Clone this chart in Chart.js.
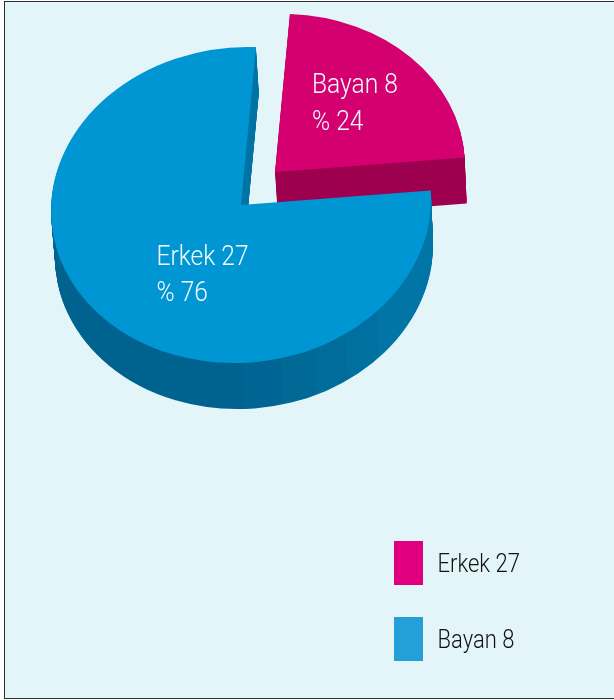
<!DOCTYPE html>
<html><head><meta charset="utf-8">
<style>
html,body{margin:0;padding:0;background:#fff;overflow:hidden;width:614px;height:700px}
#frame{position:absolute;left:4px;top:1px;width:640px;height:696px;border:1px solid #2a2f30;background:#e3f5f8}
#c{position:absolute;left:0;top:0}
</style>
<script src="https://cdn.jsdelivr.net/npm/chart.js@4"></script>
</head><body>
<div id="frame"></div>
<canvas id="c" width="614" height="700"></canvas>
<script>
const categories = ['Bayan 8', 'Erkek 27'];
const values = [8, 27];
const percentLabels = ['% 24', '% 76'];
const sliceColors = ['#d50070', '#0095d3'];
const sideColors = ['#9e0050', '#0075a6'];
const legendLabels = ['Erkek 27', 'Bayan 8'];
const legendColors = ['#e0007f', '#23a0d7'];

const FONT = 'Roboto, "Liberation Sans", sans-serif';
const NARROW_SLICE = 0.91, NARROW_LEGEND = 0.88;
const K = 158 / 190, DEPTH = 46, SKEW = 3, SHEAR = -0.03;
const centers = [{x: 275, y: 172}, {x: 241, y: 205}];
const textPos = [{x: 312, y: 93}, {x: 156.5, y: 264.5}];
const LINE_GAP = 36.5;
const legendBox = {x: 394, y: 541, w: 29, h: 44, step: 76, textX: 437.5, baseline: 31};
const facets = [[0,'#00628f'],[.505,'#00628f'],[.505,'#006592'],[.585,'#006592'],[.585,'#006996'],[.655,'#006996'],[.655,'#006c9b'],[.72,'#006c9b'],[.72,'#0070a0'],[.785,'#0070a0'],[.785,'#0075a6'],[1,'#0075a6']];

function place(ctx, arc, c, dx, dy) {
  ctx.translate(c.x + dx, c.y + dy);
  ctx.transform(1 - 0.005 * dy / DEPTH, SHEAR, 0, K, 0, 0);
  ctx.translate(-arc.x, -arc.y);
}
function drawLayer(ctx, arc, c, fill, dx, dy) {
  const o = arc.options, old = o.backgroundColor;
  ctx.save();
  place(ctx, arc, c, dx, dy);
  o.backgroundColor = typeof fill === 'function' ? fill(ctx, arc, c) : fill;
  arc.draw(ctx);
  o.backgroundColor = old;
  ctx.restore();
}
function facetGradient(ctx, arc, c) {
  const x0 = 0 - c.x + arc.x, x1 = 480 - c.x + arc.x;
  const g = ctx.createLinearGradient(x0, 0, x1, 0);
  facets.forEach(s => g.addColorStop(s[0], s[1]));
  return g;
}
function narrowText(ctx, t, x, y, f) {
  ctx.save();
  ctx.translate(x, y);
  ctx.scale(f, 1);
  ctx.fillText(t, 0, 0);
  ctx.restore();
}
const pie3d = {
  id: 'pie3d',
  beforeDatasetsDraw(chart) {
    const ctx = chart.ctx, arcs = chart.getDatasetMeta(0).data;
    arcs.forEach((arc, i) => {
      const c = centers[i];
      for (let d = DEPTH; d >= 1; d--) {
        const dx = SKEW * d / DEPTH;
        drawLayer(ctx, arc, c, i === 1 ? facetGradient : sideColors[i], dx, d);
      }
      if (i === 1) {
        ctx.save();
        ctx.beginPath();
        ctx.rect(236, 40, 32, 215);
        ctx.clip();
        for (let d = DEPTH; d >= 1; d--) drawLayer(ctx, arc, c, sideColors[i], SKEW * d / DEPTH, d);
        ctx.restore();
      }
      drawLayer(ctx, arc, c, sliceColors[i], 0, 0);
    });
    return false;
  },
  afterDraw(chart) {
    const ctx = chart.ctx;
    ctx.save();
    ctx.textBaseline = 'alphabetic';
    ctx.fillStyle = '#f4fbfd';
    ctx.font = '300 27px ' + FONT;
    categories.forEach((t, i) => {
      narrowText(ctx, t, textPos[i].x, textPos[i].y, NARROW_SLICE);
      narrowText(ctx, percentLabels[i], textPos[i].x, textPos[i].y + LINE_GAP, NARROW_SLICE);
    });
    ctx.font = '300 25px ' + FONT;
    legendLabels.forEach((t, i) => {
      const y = legendBox.y + i * legendBox.step;
      ctx.fillStyle = legendColors[i];
      ctx.fillRect(legendBox.x, y, legendBox.w, legendBox.h);
      ctx.fillStyle = '#111';
      narrowText(ctx, t, legendBox.textX, y + legendBox.baseline, NARROW_LEGEND);
    });
    ctx.restore();
  }
};

new Chart(document.getElementById('c'), {
  type: 'pie',
  data: {labels: categories, datasets: [{data: values, backgroundColor: sliceColors, borderWidth: 0}]},
  options: {
    responsive: false,
    animation: false,
    events: [],
    rotation: 4.5,
    radius: 190,
    plugins: {
      tooltip: {enabled: false},
      legend: {display: false}
    }
  },
  plugins: [pie3d]
});
</script>
</body></html>
